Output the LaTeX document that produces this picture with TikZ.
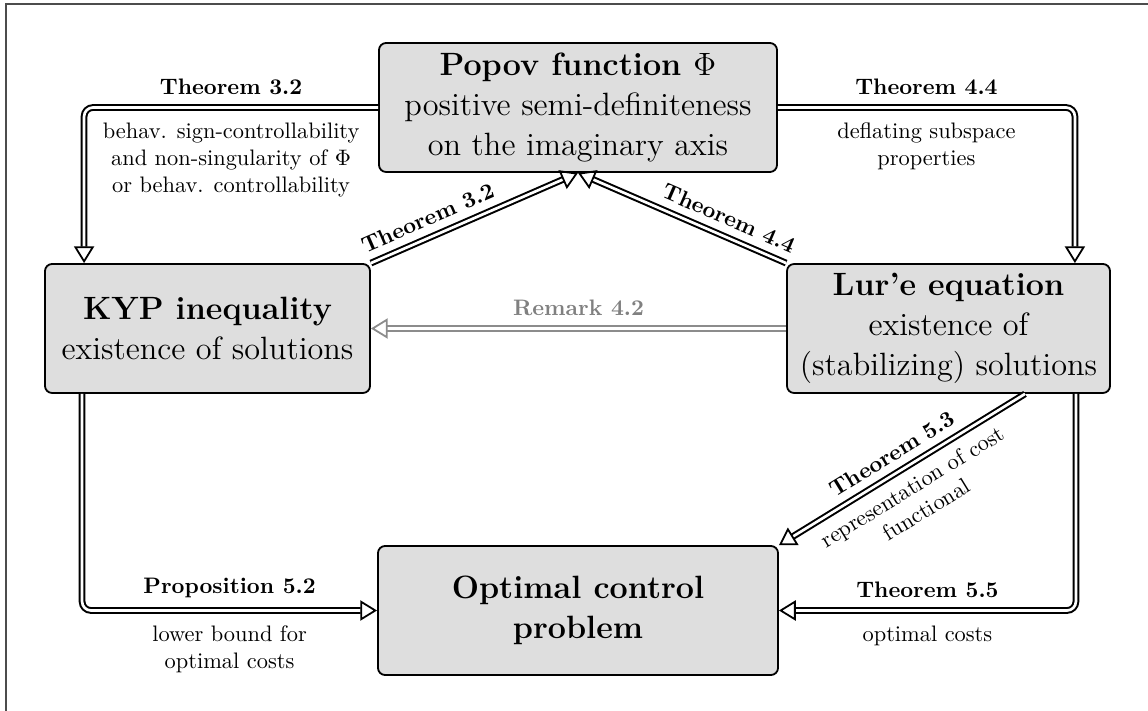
\documentclass[tikz,border=0pt]{standalone}
\usetikzlibrary{arrows.meta,calc}
\begin{document}
\begin{tikzpicture}[x=0.4464pt, y=-0.4464pt,
  box/.style={draw=black, line width=0.8pt, fill=black!13, rounded corners=3.2pt, align=center, font=\Large, inner sep=2pt, minimum height=57.6pt},
  impl/.style={line width=0.9pt, double=white, double distance=1.2pt, rounded corners=4pt, -{Triangle[open, length=7.5pt, width=9pt, line width=0.8pt]}},
  lab/.style={font=\normalsize, align=center}
]
\useasboundingbox (0,0) rectangle (1148,711);
\draw[black!70, line width=0.5pt] (1148,4) -- (6,4) -- (6,711);

\node[box, minimum width=177.7pt] (popov) at (578,107.5) {\textbf{Popov function $\Phi$}\\ positive semi-definiteness\\ on the imaginary axis};
\node[box, minimum width=145.1pt] (kyp) at (207.5,328.5) {\textbf{KYP inequality}\\ existence of solutions};
\node[box, minimum width=144.2pt] (lure) at (948.5,328.5) {\textbf{Lur'e equation}\\ existence of\\ (stabilizing) solutions};
\node[box, minimum width=178.6pt] (opt) at (578,610.5) {\textbf{Optimal control}\\ \textbf{problem}};

\coordinate (kypin) at ($(kyp.north west)+(40,0)$);
\coordinate (lurein) at ($(lure.north east)+(-36,0)$);
\coordinate (kypout) at ($(kyp.south west)+(38,0)$);
\coordinate (lureout) at ($(lure.south east)+(-35,0)$);
\coordinate (lured) at ($(lure.south)+(76.5,0)$);

\draw[impl] (popov.west) -| (kypin)
  node[lab, pos=0.25, above=2pt]{\textbf{Theorem 3.2}}
  node[lab, pos=0.25, below=3pt]{behav. sign-controllability\\and non-singularity of $\Phi$\\or behav. controllability};
\draw[impl] (popov.east) -| (lurein)
  node[lab, pos=0.25, above=2pt]{\textbf{Theorem 4.4}}
  node[lab, pos=0.25, below=3pt]{deflating subspace\\properties};
\draw[impl] (kyp.north east) -- (popov.south)
  node[lab, pos=0.31, sloped, above=1pt]{\textbf{Theorem 3.2}};
\draw[impl] (lure.north west) -- (popov.south)
  node[lab, pos=0.31, sloped, above=1pt]{\textbf{Theorem 4.4}};
\draw[impl, draw=black!45] (lure.west) -- (kyp.east)
  node[lab, midway, above=2pt, text=black!50]{\textbf{Remark 4.2}};
\draw[impl] (lured) -- (opt.north east)
  node[lab, midway, sloped, above=1pt]{\textbf{Theorem 5.3}}
  node[lab, midway, sloped, below=1.5pt]{representation of cost\\functional};
\draw[impl] (lureout) |- (opt.east)
  node[lab, pos=0.75, above=2pt]{\textbf{Theorem 5.5}}
  node[lab, pos=0.75, below=3pt]{optimal costs};
\draw[impl] (kypout) |- (opt.west)
  node[lab, pos=0.75, above=2pt]{\textbf{Proposition 5.2}}
  node[lab, pos=0.75, below=3pt]{lower bound for\\optimal costs};
\end{tikzpicture}
\end{document}
